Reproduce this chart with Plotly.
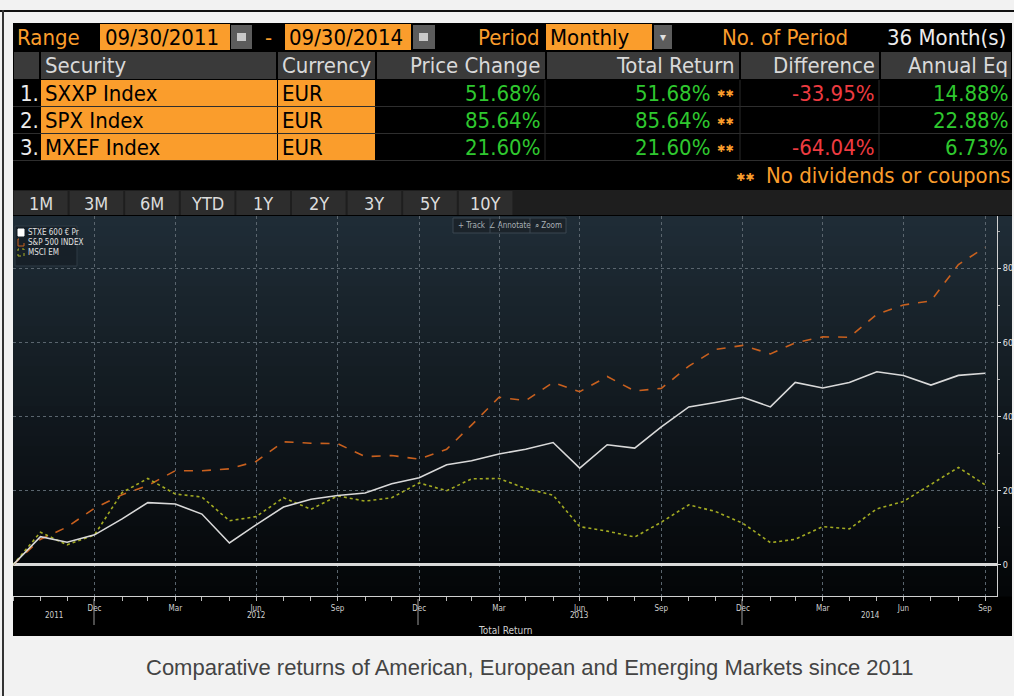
import plotly.graph_objects as go
import pandas as pd

# ---------------- data ----------------
dates = pd.date_range("2011-09-30", periods=37, freq="ME")
stxe = [0, 7.6, 6.1, 8.1, 12.4, 16.8, 16.4, 13.7, 5.9, 10.8, 15.6, 17.7, 18.7,
        19.4, 21.9, 23.5, 27.0, 28.1, 29.9, 31.2, 33.0, 26.1, 32.4, 31.5, 37.2,
        42.6, 43.8, 45.2, 42.6, 49.2, 47.7, 49.2, 52.1, 51.1, 48.5, 51.1, 51.68]
spx = [0, 6.9, 10.2, 15.3, 18.9, 21.4, 25.4, 25.4, 25.9, 27.9, 33.2, 32.8, 32.7,
       29.2, 29.5, 28.5, 31.2, 37.7, 45.2, 44.3, 49.2, 46.7, 50.8, 46.9, 47.6,
       53.6, 58.1, 59.2, 56.9, 59.9, 61.5, 61.4, 67.6, 70.1, 71.2, 81.0, 85.64]
mxef = [0, 8.8, 5.4, 8.1, 19.5, 23.3, 19.1, 18.3, 11.9, 13.0, 18.1, 15.0, 18.6,
        17.2, 18.1, 22.1, 20.0, 23.2, 23.3, 20.6, 18.8, 10.3, 9.1, 7.5, 11.5,
        16.2, 14.4, 11.2, 6.0, 6.9, 10.3, 9.7, 15.1, 17.1, 21.7, 26.3, 21.60]
series_names = ["STXE 600 € Pr", "S&P 500 INDEX", "MSCI EM"]

securities = ["SXXP Index", "SPX Index", "MXEF Index"]
currencies = ["EUR", "EUR", "EUR"]
price_change = ["51.68%", "85.64%", "21.60%"]
total_return = ["51.68%", "85.64%", "21.60%"]
difference = ["-33.95%", "", "-64.04%"]
annual_eq = ["14.88%", "22.88%", "6.73%"]
columns = ["Security", "Currency", "Price Change", "Total Return", "Difference", "Annual Eq"]
buttons = ["1M", "3M", "6M", "YTD", "1Y", "2Y", "3Y", "5Y", "10Y"]

quarter_ticks = ["2011-12-31", "2012-03-31", "2012-06-30", "2012-09-30",
                 "2012-12-31", "2013-03-31", "2013-06-30", "2013-09-30",
                 "2013-12-31", "2014-03-31", "2014-06-30", "2014-09-30"]
quarter_text = ["Dec", "Mar", "Jun", "Sep"] * 3
years = ["2011", "2012", "2013", "2014"]

# ---------------- geometry helpers ----------------
W, H = 1014, 696
L, R, T, B = 13, 997, 216, 596


def px(X):
    return (X - L) / (R - L)


def py(Y):
    return (B - Y) / (B - T)


NARROW = "Liberation Sans Narrow, Arial Narrow, DejaVu Sans Condensed, Roboto Condensed, sans-serif"
ORANGE = "#fa9d2c"
GREEN = "#2fc82f"
RED = "#ee3b40"

shapes = []
annots = []


def rect(x0, y0, x1, y1, fill, line=None, lw=0, dash=None, layer="below"):
    d = dict(type="rect", xref="paper", yref="paper", x0=px(x0), x1=px(x1),
             y0=py(y1), y1=py(y0), fillcolor=fill, layer=layer,
             line=dict(width=lw, color=line or fill))
    if dash:
        d["line"]["dash"] = dash
    shapes.append(d)


def hline(x0, x1, y, color, w=1, layer="below"):
    shapes.append(dict(type="line", xref="paper", yref="paper", x0=px(x0), x1=px(x1),
                       y0=py(y), y1=py(y), line=dict(color=color, width=w), layer=layer))


def vline(x, y0, y1, color, w=1, layer="below"):
    shapes.append(dict(type="line", xref="paper", yref="paper", x0=px(x), x1=px(x),
                       y0=py(y0), y1=py(y1), line=dict(color=color, width=w), layer=layer))


def text(X, Y, s, size, color, anchor="left", family=NARROW):
    annots.append(dict(xref="paper", yref="paper", x=px(X), y=py(Y), text=s,
                       showarrow=False, xanchor=anchor, yanchor="middle",
                       font=dict(size=size, color=color, family=family)))


# outer frame
rect(0, 10, W, 12, "#111111")
rect(2, 10, 4, H, "#333333")
# black panel
rect(13, 23, 1012, 636, "#000000")

# ---- row 1 : range
r1 = 37
text(15, r1, "Range", 22, ORANGE)
rect(100, 24, 230, 50, ORANGE)
text(103, r1, "09/30/2011", 22, "#000000")
rect(231, 25, 252, 49, "#5c5c5c")
rect(237, 33, 246, 41, "#c9c9c9")
text(268, r1, "-", 22, ORANGE, "center")
rect(285, 24, 411, 50, ORANGE)
text(287, r1, "09/30/2014", 22, "#000000")
rect(413, 25, 435, 49, "#5c5c5c")
rect(419, 33, 428, 41, "#c9c9c9")
text(542, r1, "Period", 22, ORANGE, "right")
rect(546, 24, 652, 50, ORANGE)
text(548, r1, "Monthly", 22, "#000000")
rect(654, 25, 672, 49, "#5c5c5c")
text(663, r1, "▾", 12, "#e0e0e0", "center", "DejaVu Sans")
text(850, r1, "No. of Period", 22, ORANGE, "right")
text(1008, r1, "36 Month(s)", 22, "#ececec", "right")

# ---- row 2 : column headers
col_edges = [13, 40, 277, 376, 546, 740, 880, 1012]
for i in range(len(col_edges) - 1):
    rect(col_edges[i] + 1, 52, col_edges[i + 1] - 1, 79, "#3a3a3a")
text(43, 65.5, columns[0], 22, "#d9d9d9")
text(280, 65.5, columns[1], 22, "#d9d9d9")
text(542, 65.5, columns[2], 22, "#d9d9d9", "right")
text(737, 65.5, columns[3], 22, "#d9d9d9", "right")
text(877, 65.5, columns[4], 22, "#d9d9d9", "right")
text(1010, 65.5, columns[5], 22, "#d9d9d9", "right")

# ---- rows 3-5 : securities
for k in range(3):
    y0 = 80 + 27 * k
    yc = y0 + 13
    rect(41, y0, 277, y0 + 26, ORANGE)
    rect(278, y0, 375, y0 + 26, ORANGE)
    hline(13, 1012, y0 + 26.5, "#2e2e2e", 1)
    text(41, yc, f"{k + 1}.", 22, "#ececec", "right")
    text(43, yc, securities[k], 22, "#000000")
    text(280, yc, currencies[k], 22, "#000000")
    text(542, yc, price_change[k], 22, GREEN, "right")
    text(712, yc, total_return[k], 22, GREEN, "right")
    text(725, yc + 1, "✱✱", 10, ORANGE, "center", "DejaVu Sans")
    if difference[k]:
        text(877, yc, difference[k], 22, RED, "right")
    text(1010, yc, annual_eq[k], 22, GREEN, "right")
for xe in [545, 740, 879]:
    vline(xe, 80, 160, "#2a2a2a", 1)

# ---- row 6 : note
text(745, 177, "✱✱", 11, ORANGE, "center", "DejaVu Sans")
text(1013, 176, "No dividends or coupons", 22, ORANGE, "right")

# ---- row 7 : buttons
rect(13, 190, 1012, 215, "#1e1e1e")
bw = 55.6
for i, b in enumerate(buttons):
    x0 = 13 + bw * i
    rect(x0 + 1, 191, x0 + bw - 1, 215, "#2d2d2d")
    text(x0 + bw / 2, 203.5, b, 18, "#dcdcdc", "center")

# ---- chart gradient background
n = 38
top_c = (31, 44, 54)
bot_c = (4, 6, 8)
for i in range(n):
    t = i / (n - 1)
    c = tuple(int(round(top_c[j] + (bot_c[j] - top_c[j]) * t)) for j in range(3))
    y0 = T + (B - T) * i / n
    y1 = T + (B - T) * (i + 1) / n + 0.6
    rect(13, y0, 1012, y1, "rgb(%d,%d,%d)" % c)

# ---- toolbar
rect(453, 218, 566, 233, "#1b232a", "#3a4650", 1)
vline(490, 218, 233, "#3a4650")
vline(530, 218, 233, "#3a4650")
text(472, 225.5, "+ Track", 8, "#a9b0b5", "center")
text(510, 225.5, "∠ Annotate", 8, "#a9b0b5", "center")
text(548, 225.5, "⌕ Zoom", 8, "#a9b0b5", "center")

# ---- legend box
rect(15, 226, 77, 266, "#172028", "#2f3b45", 1)
rect(18, 229, 24, 236, "#ffffff", "#ffffff", 1)
rect(18, 239, 24, 246, "rgba(0,0,0,0)", "#c8601e", 1, "dash")
rect(18, 249, 24, 256, "rgba(0,0,0,0)", "#a8b025", 1, "dot")
text(26, 232.5, series_names[0], 8, "#e0e0e0")
text(26, 242.5, series_names[1], 8, "#e0e0e0")
text(26, 252.5, series_names[2], 8, "#e0e0e0")

# ---- bottom axis annotations
for X, yr in zip([54, 256, 579, 870], years):
    text(X, 615, yr, 8, "#cfcfcf", "center")
for X in [94, 418, 742]:
    vline(X, 599, 625, "#9a9a9a", 1)
text(505, 630, "Total Return", 10, "#cfcfcf", "center")

# ---- caption
text(530, 667, "Comparative returns of American, European and Emerging Markets since 2011",
     22, "#444444", "center", "Liberation Sans, Arial, sans-serif")

# ---------------- traces ----------------
fig = go.Figure()
fig.add_trace(go.Scatter(x=dates, y=spx, name=series_names[1], mode="lines",
                         line=dict(color="#c8601e", width=1.6, dash="dash")))
fig.add_trace(go.Scatter(x=dates, y=mxef, name=series_names[2], mode="lines",
                         line=dict(color="#a3ab22", width=1.6, dash="dot")))
fig.add_trace(go.Scatter(x=dates, y=stxe, name=series_names[0], mode="lines",
                         line=dict(color="#d9d9d9", width=1.6)))

fig.update_layout(
    width=W, height=H, autosize=False,
    margin=dict(l=L, r=W - R, t=T, b=H - B, pad=0, autoexpand=False),
    paper_bgcolor="#f2f2f2",
    plot_bgcolor="rgba(0,0,0,0)",
    showlegend=False,
    shapes=shapes,
    annotations=annots,
    xaxis=dict(
        type="date",
        range=["2011-09-30", "2014-10-13 12:00"],
        tickmode="array", tickvals=quarter_ticks, ticktext=quarter_text,
        showgrid=True, gridcolor="#5a656e", griddash="dot", gridwidth=1,
        showline=True, linecolor="#d0d0d0", linewidth=1,
        ticks="outside", ticklen=4, tickcolor="#bbbbbb",
        tickfont=dict(size=8, color="#cfcfcf", family=NARROW),
        minor=dict(tickvals=list(dates), ticks="outside", ticklen=4,
                   tickcolor="#bbbbbb", showgrid=False),
        zeroline=False, fixedrange=True, automargin=False,
    ),
    yaxis=dict(
        side="right",
        range=[-8.4, 94.1],
        tickvals=[0, 20, 40, 60, 80],
        showgrid=True, gridcolor="#5a656e", griddash="dot", gridwidth=1,
        zeroline=True, zerolinecolor="#d9d9d9", zerolinewidth=3,
        showline=True, linecolor="#d0d0d0", linewidth=1,
        ticks="outside", ticklen=3, tickcolor="#e0e0e0",
        tickfont=dict(size=9, color="#e6e6e6", family=NARROW),
        minor=dict(dtick=10, ticks="outside", ticklen=2, tickcolor="#aaaaaa",
                   showgrid=False),
        fixedrange=True, automargin=False,
    ),
)

post = "document.body.style.margin='0';document.body.style.overflow='hidden';"
fig.write_html("out.html", config={"displayModeBar": False, "responsive": False},
               post_script=post)
